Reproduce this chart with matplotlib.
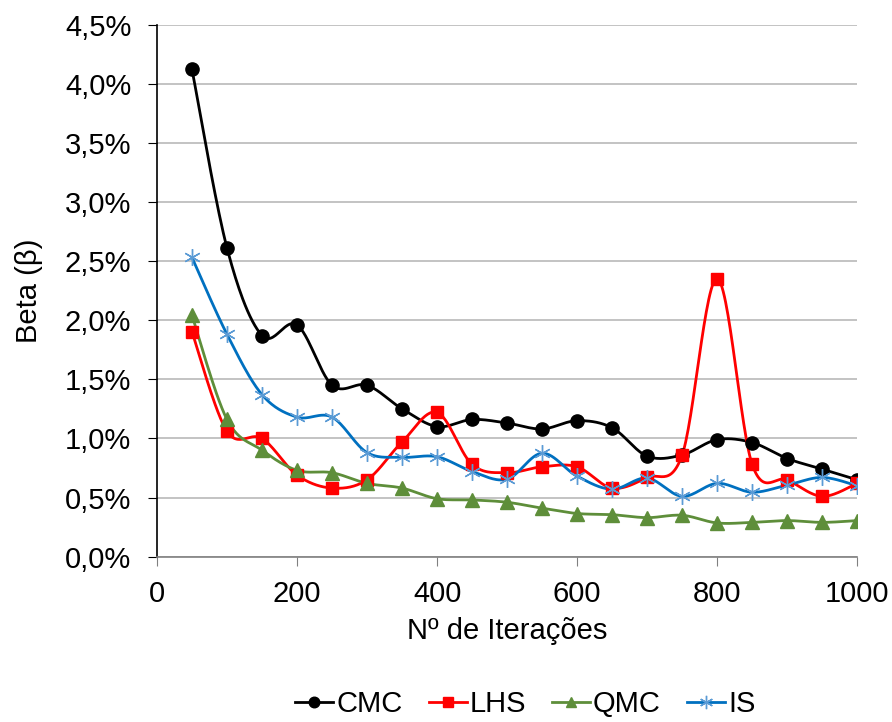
import numpy as np
import matplotlib
matplotlib.use("Agg")
import matplotlib.pyplot as plt
from matplotlib.ticker import FuncFormatter

plt.rcParams['font.family'] = ['Liberation Sans', 'DejaVu Sans']

# Dados (valores em %)
iteracoes = [50, 100, 150, 200, 250, 300, 350, 400, 450, 500,
             550, 600, 650, 700, 750, 800, 850, 900, 950, 1000]
cmc = [4.12, 2.61, 1.87, 1.96, 1.45, 1.45, 1.25, 1.10, 1.16, 1.13,
       1.08, 1.15, 1.09, 0.85, 0.86, 0.99, 0.965, 0.83, 0.74, 0.65]
lhs = [1.90, 1.06, 1.00, 0.69, 0.58, 0.65, 0.97, 1.22, 0.78, 0.71,
       0.76, 0.76, 0.58, 0.67, 0.86, 2.35, 0.78, 0.65, 0.51, 0.62]
qmc = [2.04, 1.16, 0.90, 0.73, 0.71, 0.62, 0.58, 0.49, 0.48, 0.46,
       0.41, 0.365, 0.355, 0.33, 0.35, 0.285, 0.29, 0.305, 0.29, 0.305]
is_ = [2.53, 1.88, 1.37, 1.18, 1.18, 0.88, 0.84, 0.845, 0.72, 0.655,
       0.875, 0.68, 0.57, 0.665, 0.51, 0.62, 0.545, 0.605, 0.67, 0.60]


def suavizar(x, y, n=30):
    """Curva suave estilo Excel (Catmull-Rom em Bezier)"""
    x = np.asarray(x, float)
    y = np.asarray(y, float)
    px = np.concatenate([[x[0]], x, [x[-1]]])
    py = np.concatenate([[y[0]], y, [y[-1]]])
    xs, ys = [], []
    t = np.linspace(0, 1, n)
    for i in range(1, len(px) - 2):
        p0 = np.array([px[i], py[i]])
        p3 = np.array([px[i + 1], py[i + 1]])
        c1 = p0 + (np.array([px[i + 1], py[i + 1]]) - np.array([px[i - 1], py[i - 1]])) / 6
        c2 = p3 - (np.array([px[i + 2], py[i + 2]]) - np.array([px[i], py[i]])) / 6
        b = ((1 - t) ** 3)[:, None] * p0 + (3 * (1 - t) ** 2 * t)[:, None] * c1 \
            + (3 * (1 - t) * t ** 2)[:, None] * c2 + (t ** 3)[:, None] * p3
        xs.extend(b[:, 0])
        ys.extend(b[:, 1])
    return xs, ys


fig = plt.figure(figsize=(8.92, 7.22), dpi=100)
ax = fig.add_axes([0.176, 0.229, 0.785, 0.737])

series = [
    ('CMC', cmc, 'black', 'black', 'o', 9.5),
    ('LHS', lhs, '#FF0000', '#FF0000', 's', 8.5),
    ('QMC', qmc, '#5E8E3A', '#5E8E3A', '^', 9.5),
    ('IS', is_, '#0070C0', '#5B9BD5', (6, 2, 0), 12),
]

handles = []
for nome, vals, cor, cor_m, marc, ms in series:
    sx, sy = suavizar(iteracoes, vals)
    ax.plot(sx, sy, color=cor, linewidth=2, zorder=3)
    ax.plot(iteracoes, vals, linestyle='none', marker=marc, markersize=ms,
            color=cor_m, markeredgecolor=cor_m, markeredgewidth=1, zorder=4)
    h, = ax.plot([], [], color=cor, linewidth=2, marker=marc, markersize=ms * 0.8,
                 markerfacecolor=cor_m, markeredgecolor=cor_m)
    handles.append(h)

ax.set_xlim(0, 1000)
ax.set_ylim(0, 4.5)
ax.set_xticks(np.arange(0, 1001, 200))
ax.set_yticks(np.arange(0, 4.51, 0.5))
ax.yaxis.set_major_formatter(FuncFormatter(lambda v, p: f"{v:.1f}%".replace('.', ',')))

ax.grid(axis='y', color='#BEBEBE', linewidth=1.3)
ax.set_axisbelow(True)
for s in ['top', 'right']:
    ax.spines[s].set_visible(False)
ax.spines['left'].set_color('black')
ax.spines['bottom'].set_color('#808080')
ax.spines['left'].set_linewidth(1.2)
ax.spines['bottom'].set_linewidth(1.2)
ax.tick_params(axis='both', labelsize=21, length=6.5, direction='out')
ax.tick_params(axis='y', pad=12)
ax.tick_params(axis='x', color='#808080', pad=10)

ax.set_xlabel('Nº de Iterações', fontsize=21, labelpad=7)
ax.set_ylabel('Beta (β)', fontsize=21, labelpad=16)

fig.legend(handles, ['CMC', 'LHS', 'QMC', 'IS'], loc='center', bbox_to_anchor=(0.589, 0.025),
           ncol=4, frameon=False, fontsize=21, handlelength=1.3, handletextpad=0.1,
           columnspacing=0.9, borderpad=0.2)

fig.savefig('out.png', dpi=100)
